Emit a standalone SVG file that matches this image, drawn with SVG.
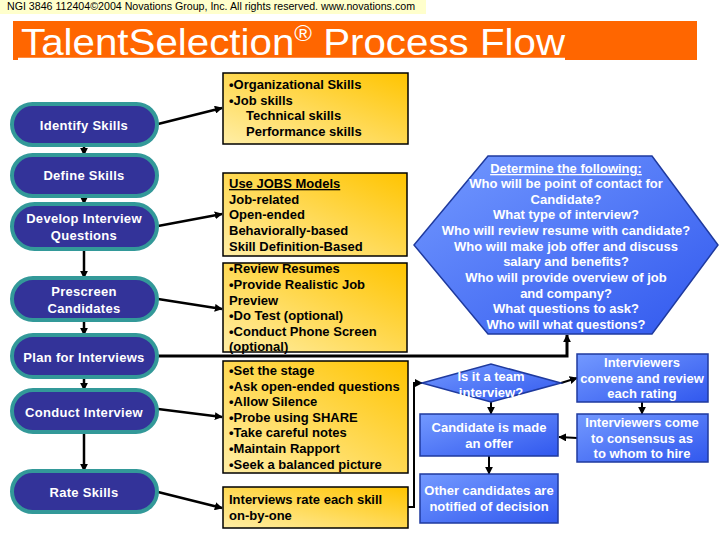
<svg xmlns="http://www.w3.org/2000/svg" width="720" height="540" viewBox="0 0 720 540">
<defs>
<linearGradient id="gy" x1="0" y1="1" x2="1" y2="0">
<stop offset="0" stop-color="#ffeea6"/>
<stop offset="1" stop-color="#ffc400"/>
</linearGradient>
<linearGradient id="gb" x1="0" y1="0" x2="1" y2="1">
<stop offset="0" stop-color="#7399ff"/>
<stop offset="1" stop-color="#3158ee"/>
</linearGradient>
<marker id="ah" viewBox="0 0 10 10" refX="9" refY="5" markerWidth="8" markerHeight="8" markerUnits="userSpaceOnUse" orient="auto">
<path d="M0,0 L10,5 L0,10 z" fill="#000"/>
</marker>
<style>
.pill{fill:#333399;stroke:#339999;stroke-width:4}
.yb{fill:url(#gy);stroke:#000;stroke-width:1.5}
.bb{fill:url(#gb);stroke:#1f3a9e;stroke-width:1.5}
.pt{font-family:"Liberation Sans",Arial,sans-serif;font-size:13px;font-weight:bold;fill:#fff;text-anchor:middle;letter-spacing:0.3px}
.yt{font-family:"Liberation Sans",Arial,sans-serif;font-size:13px;font-weight:bold;fill:#000}
.wt{font-family:"Liberation Sans",Arial,sans-serif;font-size:13px;font-weight:bold;fill:#fff;text-anchor:middle}
.cn{fill:none;stroke:#000;stroke-width:2.5}
</style>
</defs>
<rect width="720" height="540" fill="#fff"/>
<g id="header">
<rect x="0" y="0" width="426" height="14" fill="#ffffcc"/>
<text x="7" y="10" font-family="'Liberation Sans',Arial,sans-serif" font-size="10" fill="#000" textLength="408" lengthAdjust="spacingAndGlyphs">NGI 3846 112404©2004 Novations Group, Inc. All rights reserved. www.novations.com</text>
</g>
<g id="title">
<rect x="13" y="21" width="684" height="39" fill="#ff6600"/>
<line x1="18" y1="59" x2="565" y2="59" stroke="#fff" stroke-width="2.5"/>
<text x="21" y="55" font-family="'Liberation Sans',Arial,sans-serif" font-size="37" fill="#fff" textLength="544" lengthAdjust="spacingAndGlyphs">TalentSelection<tspan font-size="22" dy="-14">®</tspan><tspan dy="14"> Process Flow</tspan></text>
</g>
<g id="connectors">
<g class="cn" stroke-width="2" marker-end="url(#ah)">
<line x1="84" y1="145" x2="84" y2="155"/>
<line x1="84" y1="196" x2="84" y2="204"/>
<line x1="84" y1="249" x2="84" y2="278"/>
<line x1="84" y1="320" x2="84" y2="335"/>
<line x1="84" y1="377" x2="84" y2="390"/>
<line x1="84" y1="432" x2="84" y2="471"/>
</g>
<g class="cn" marker-end="url(#ah)">
<line x1="158" y1="124" x2="222" y2="108"/>
<line x1="158" y1="226" x2="222" y2="214"/>
<line x1="158" y1="299" x2="222" y2="309"/>
<line x1="158" y1="409" x2="222" y2="417"/>
<line x1="158" y1="492" x2="222" y2="508"/>
<polyline points="158,356 567,356 567,335" stroke-width="3"/>
<polyline points="408,507 414,507 414,383 422,383" stroke-width="2"/>
<line x1="561" y1="383" x2="577" y2="378" stroke-width="2"/>
<line x1="491" y1="402" x2="491" y2="414" stroke-width="2"/>
<line x1="642" y1="402" x2="642" y2="414" stroke-width="2"/>
<line x1="577" y1="438" x2="559" y2="437" stroke-width="2"/>
<line x1="489" y1="456" x2="489" y2="474" stroke-width="2"/>
</g>
</g>
<g id="identify-skills"><rect class="pill" x="12" y="104" width="145" height="41" rx="20.5"/><text class="pt" x="84" y="130">Identify Skills</text></g>
<g id="define-skills"><rect class="pill" x="12" y="155" width="145" height="41" rx="20.5"/><text class="pt" x="84" y="180">Define Skills</text></g>
<g id="develop-questions"><rect class="pill" x="12" y="204" width="145" height="45" rx="22.5"/><text class="pt" x="84" y="223">Develop Interview</text><text class="pt" x="84" y="240">Questions</text></g>
<g id="prescreen"><rect class="pill" x="12" y="278" width="145" height="42" rx="21"/><text class="pt" x="84" y="296">Prescreen</text><text class="pt" x="84" y="313">Candidates</text></g>
<g id="plan-interviews"><rect class="pill" x="12" y="335" width="145" height="42" rx="21"/><text class="pt" x="84" y="362">Plan for Interviews</text></g>
<g id="conduct-interview"><rect class="pill" x="12" y="390" width="145" height="42" rx="21"/><text class="pt" x="84" y="417">Conduct Interview</text></g>
<g id="rate-skills"><rect class="pill" x="12" y="471" width="145" height="41" rx="20.5"/><text class="pt" x="84" y="497">Rate Skills</text></g>
<g id="skills-box"><rect class="yb" x="223" y="73" width="185" height="71"/>
<text class="yt" x="229" y="89">•Organizational Skills</text><text class="yt" x="229" y="105">•Job skills</text><text class="yt" x="246" y="120">Technical skills</text><text class="yt" x="246" y="136">Performance skills</text></g>
<g id="jobs-box"><rect class="yb" x="223" y="173" width="184" height="83"/>
<text class="yt" x="229" y="188" text-decoration="underline">Use JOBS Models</text><text class="yt" x="229" y="204">Job-related</text><text class="yt" x="229" y="219">Open-ended</text><text class="yt" x="229" y="235">Behaviorally-based</text><text class="yt" x="229" y="251">Skill Definition-Based</text></g>
<g id="prescreen-box"><rect class="yb" x="223" y="263" width="184" height="89"/>
<text class="yt" x="229" y="273">•Review Resumes</text><text class="yt" x="229" y="289">•Provide Realistic Job</text><text class="yt" x="229" y="305">Preview</text><text class="yt" x="229" y="320">•Do Test (optional)</text><text class="yt" x="229" y="336">•Conduct Phone Screen</text><text class="yt" x="229" y="351">(optional)</text></g>
<g id="conduct-box"><rect class="yb" x="223" y="361" width="185" height="112"/>
<text class="yt" x="229" y="375">•Set the stage</text><text class="yt" x="229" y="391">•Ask open-ended questions</text><text class="yt" x="229" y="406">•Allow Silence</text><text class="yt" x="229" y="422">•Probe using SHARE</text><text class="yt" x="229" y="437">•Take careful notes</text><text class="yt" x="229" y="453">•Maintain Rapport</text><text class="yt" x="229" y="469">•Seek a balanced picture</text></g>
<g id="rate-box"><rect class="yb" x="223" y="487" width="185" height="41"/>
<text class="yt" x="229" y="504">Interviews rate each skill</text><text class="yt" x="229" y="520">on-by-one</text></g>
<g id="determine-hexagon"><polygon class="bb" points="488,156 652,156 718,245 652,334 488,334 414,245"/>
<text class="wt" x="566" y="173" text-decoration="underline">Determine the following:</text>
<text class="wt" x="566" y="188">Who will be point of contact for</text>
<text class="wt" x="566" y="204">Candidate?</text>
<text class="wt" x="566" y="219">What type of interview?</text>
<text class="wt" x="566" y="235">Who will review resume with candidate?</text>
<text class="wt" x="566" y="251">Who will make job offer and discuss</text>
<text class="wt" x="566" y="266">salary and benefits?</text>
<text class="wt" x="566" y="282">Who will provide overview of job</text>
<text class="wt" x="566" y="298">and company?</text>
<text class="wt" x="566" y="313">What questions to ask?</text>
<text class="wt" x="566" y="329">Who will what questions?</text></g>
<g id="team-diamond"><polygon class="bb" points="422,383 491,364 561,383 491,402"/>
<text class="wt" x="491" y="381">Is it a team</text><text class="wt" x="491" y="397">interview?</text></g>
<g id="convene-box"><rect class="bb" x="577" y="354" width="131" height="48"/>
<text class="wt" x="642" y="367">Interviewers</text><text class="wt" x="642" y="383">convene and review</text><text class="wt" x="642" y="398">each rating</text></g>
<g id="consensus-box"><rect class="bb" x="577" y="414" width="131" height="48"/>
<text class="wt" x="642" y="427">Interviewers come</text><text class="wt" x="642" y="443">to consensus as</text><text class="wt" x="642" y="458">to whom to hire</text></g>
<g id="offer-box"><rect class="bb" x="420" y="414" width="138" height="42"/>
<text class="wt" x="489" y="432">Candidate is made</text><text class="wt" x="489" y="448">an offer</text></g>
<g id="notify-box"><rect class="bb" x="420" y="474" width="138" height="49"/>
<text class="wt" x="489" y="495">Other candidates are</text><text class="wt" x="489" y="511">notified of decision</text></g>
</svg>
